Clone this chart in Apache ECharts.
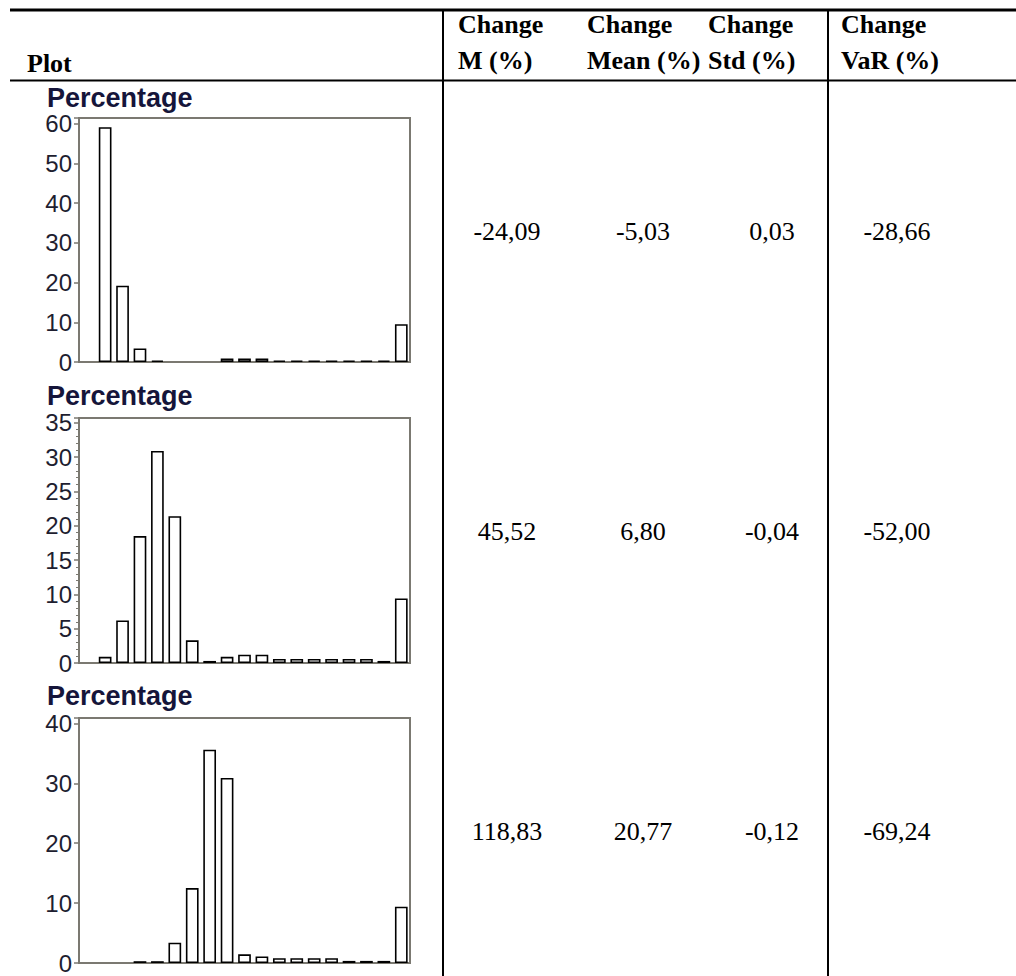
<!DOCTYPE html>
<html>
<head>
<meta charset="utf-8">
<script src="https://cdn.jsdelivr.net/npm/echarts@6/dist/echarts.min.js"></script>
<style>
  html, body { margin: 0; padding: 0; background: #fff; }
  #chart { width: 1016px; height: 976px; }
</style>
</head>
<body>
<div id="chart"></div>
<script>
// ---- data ----
const bins = ['1','2','3','4','5','6','7','8','9','10','11','12','13','14','15','16','17','18','19'];
const pct1 = [0, 59.1, 19.2, 3.4, 0.4, 0, 0, 0, 0.85, 0.85, 0.85, 0.35, 0.35, 0.35, 0.35, 0.35, 0.35, 0.35, 9.5];
const pct2 = [0, 0.9, 6.2, 18.5, 30.9, 21.4, 3.3, 0.3, 0.9, 1.2, 1.2, 0.6, 0.6, 0.6, 0.6, 0.6, 0.6, 0.3, 9.4];
const pct3 = [0, 0, 0, 0.3, 0.3, 3.4, 12.5, 35.6, 30.9, 1.45, 1.1, 0.8, 0.8, 0.8, 0.8, 0.35, 0.35, 0.35, 9.4];
const yMaxes = [61.4, 35.7, 40.9];
const yIntervals = [10, 5, 10];
const plotTitle = 'Percentage';
const headerFirst = 'Plot';
const headers = [['Change', 'M (%)'], ['Change', 'Mean (%)'], ['Change', 'Std (%)'], ['Change', 'VaR (%)']];
const changeM = ['-24,09', '45,52', '118,83'];
const changeMean = ['-5,03', '6,80', '20,77'];
const changeStd = ['0,03', '-0,04', '-0,12'];
const changeVaR = ['-28,66', '-52,00', '-69,24'];

// ---- layout ----
const series = [pct1, pct2, pct3];
const gridTops = [118, 418, 718];
const gridH = [244, 245, 245];
const titleTops = [84, 382, 682];
const rowMid = [231, 531, 831];
const headerX = [458, 587, 708, 841];
const valueX = [507, 643, 772, 897];
const serif = '"Liberation Serif", "DejaVu Serif", serif';
const sans = '"Liberation Sans", Arial, sans-serif';
const frameColor = '#7b7971';

const chart = echarts.init(document.getElementById('chart'), null, { renderer: 'svg' });

const grids = [], xAxes = [], yAxes = [], seriesOpts = [], titles = [];
series.forEach((d, i) => {
  grids.push({ left: 79, top: gridTops[i], width: 331, height: gridH[i], show: true,
    borderColor: frameColor, borderWidth: 2, backgroundColor: 'transparent', containLabel: false });
  xAxes.push({ type: 'category', gridIndex: i, data: bins, boundaryGap: true,
    axisLine: { show: false }, axisTick: { show: false }, axisLabel: { show: false }, splitLine: { show: false } });
  const iv = yIntervals[i];
  yAxes.push({ type: 'value', gridIndex: i, min: 0, max: yMaxes[i], interval: iv,
    axisLine: { show: true, lineStyle: { color: frameColor, width: 2 } },
    axisTick: { show: true, length: 5, lineStyle: { color: frameColor, width: 1.5 } },
    minorTick: { show: i === 1, splitNumber: 5, length: 3, lineStyle: { color: frameColor, width: 1 } },
    splitLine: { show: false },
    axisLabel: { fontFamily: sans, fontSize: 24, color: '#1e1e30', margin: 7,
      formatter: v => (Math.abs(v / iv - Math.round(v / iv)) < 1e-6 ? String(v) : '') } });
  seriesOpts.push({ type: 'bar', xAxisIndex: i, yAxisIndex: i,
    data: d.map(v => (v === 0 ? '-' : v)), barCategoryGap: '27%',
    itemStyle: { color: '#ffffff', borderColor: '#000000', borderWidth: 1.6 }, silent: true });
  titles.push({ text: plotTitle, left: 47, top: titleTops[i], padding: 0,
    textStyle: { fontFamily: sans, fontWeight: 'bold', fontSize: 27, color: '#15153a', lineHeight: 27 } });
});

const graphics = [];
const line = (x1, y1, x2, y2, w) => graphics.push({ type: 'line', silent: true,
  shape: { x1, y1, x2, y2 }, style: { stroke: '#000', lineWidth: w } });
line(10, 10, 1016, 10, 3);
line(10, 80.5, 1016, 80.5, 2);
line(443, 10, 443, 976, 2);
line(828, 10, 828, 976, 2);

const txt = (text, x, y, font, align) => graphics.push({ type: 'text', silent: true, x, y,
  style: { text, font, fill: '#000', textAlign: align, textVerticalAlign: 'middle', align, verticalAlign: 'middle' } });
const hFont = 'bold 26px ' + serif;
const vFont = '26px ' + serif;
txt(headerFirst, 27, 63, hFont, 'left');
headers.forEach((h, j) => {
  txt(h[0], headerX[j], 24, hFont, 'left');
  txt(h[1], headerX[j], 60, hFont, 'left');
});
[changeM, changeMean, changeStd, changeVaR].forEach((col, j) => {
  col.forEach((v, r) => txt(v, valueX[j], rowMid[r], vFont, 'center'));
});

chart.setOption({
  animation: false,
  backgroundColor: '#ffffff',
  title: titles,
  grid: grids,
  xAxis: xAxes,
  yAxis: yAxes,
  series: seriesOpts,
  graphic: graphics
});
</script>
</body>
</html>
